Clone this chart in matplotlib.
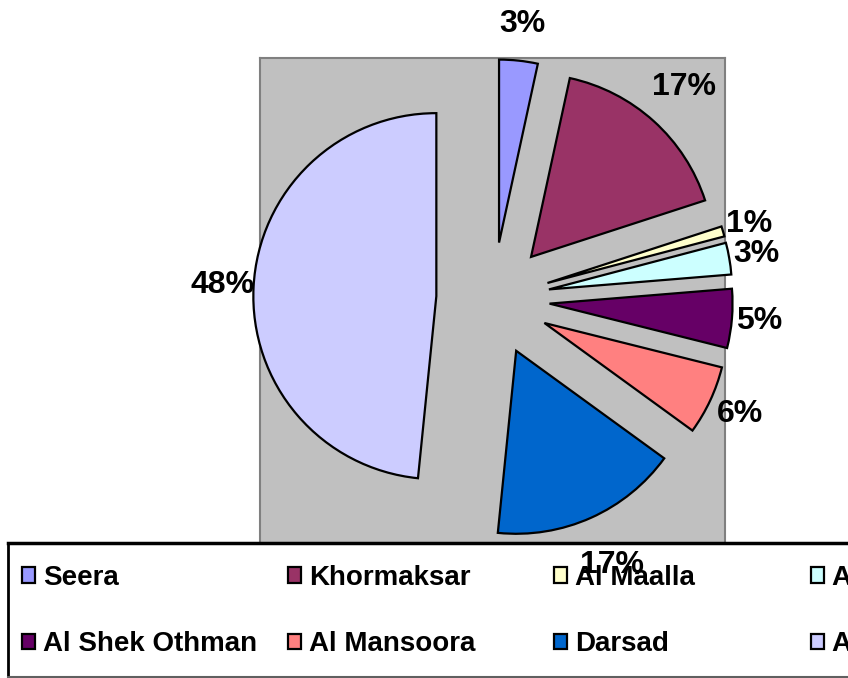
"""
Exploded pie of district shares (Aden) with Excel-style grey plot area and legend strip.
"""
import numpy as np
import matplotlib
matplotlib.use('Agg')
import matplotlib.pyplot as plt

plt.rcParams['font.family'] = ['Liberation Sans', 'DejaVu Sans']

districts = ['Seera', 'Khormaksar', 'Al Maalla', 'Al Tawahi',
             'Al Shek Othman', 'Al Mansoora', 'Darsad', 'Al Buraiqa']
# percent shares
shares = [3.4, 16.6, 0.9, 2.8, 5.2, 6.1, 16.6, 48.4]
colors = ['#9999FF', '#993366', '#FFFFCC', '#CCFFFF',
          '#660066', '#FF8080', '#0066CC', '#CCCCFF']

# label distance from the (exploded) slice tip, in pie radii
label_r = [1.20, 1.25, 1.15, 1.15, 1.15, 1.18, 1.28, 1.17]

W, H = 848, 678
fig = plt.figure(figsize=(W / 100, H / 100), dpi=100)

# grey plot area
bg = fig.add_axes([260 / W, 133 / H, 465 / W, 487 / H], zorder=0)
bg.set_facecolor('#C0C0C0')
bg.set_xticks([])
bg.set_yticks([])
for s in bg.spines.values():
    s.set_color('#808080')
    s.set_linewidth(1.5)

# white legend strip, partly off the right edge
lg = fig.add_axes([8 / W, 1 / H, 1.0, 134 / H], zorder=1)
lg.set_facecolor('white')
lg.set_xticks([])
lg.set_yticks([])
lg.spines['top'].set_linewidth(2.5)
lg.spines['left'].set_linewidth(2.0)
lg.spines['bottom'].set_color('#606060')
lg.spines['bottom'].set_linewidth(1.5)
lg.spines['right'].set_visible(False)

# pie on a transparent axes, 183 px per unit, centre at (493, 299) px
ax = fig.add_axes([0, 0, 1, 1], zorder=2)
ax.patch.set_alpha(0)
wedges, _ = ax.pie(shares, colors=colors, startangle=90, counterclock=False,
                   explode=[0.31] * len(shares),
                   wedgeprops=dict(edgecolor='black', linewidth=1.6))
R = 183
ax.set_xlim(-493 / R, (W - 493) / R)
ax.set_ylim(-(H - 299) / R, 299 / R)
ax.set_aspect('auto')
ax.axis('off')

for w, v, r in zip(wedges, shares, label_r):
    mid = np.deg2rad((w.theta1 + w.theta2) / 2)
    cx, cy = w.center
    ax.text(cx + r * np.cos(mid), cy + r * np.sin(mid), f'{v:.0f}%',
            ha='center', va='center', fontsize=23, fontweight='bold',
            zorder=10)

# legend: four equal-width columns of two rows
col_x = [22, 288, 554, 811]
for j, x in enumerate(col_x):
    fig.legend([wedges[j], wedges[j + 4]], [districts[j], districts[j + 4]],
               loc='upper left', bbox_to_anchor=(x / W, (H - 565) / H),
               frameon=False, borderpad=0, borderaxespad=0,
               handlelength=0.47, handleheight=0.47, handletextpad=0.3,
               labelspacing=1.45,
               prop=dict(size=20, weight='bold'))

fig.savefig('out.png', dpi=100)
